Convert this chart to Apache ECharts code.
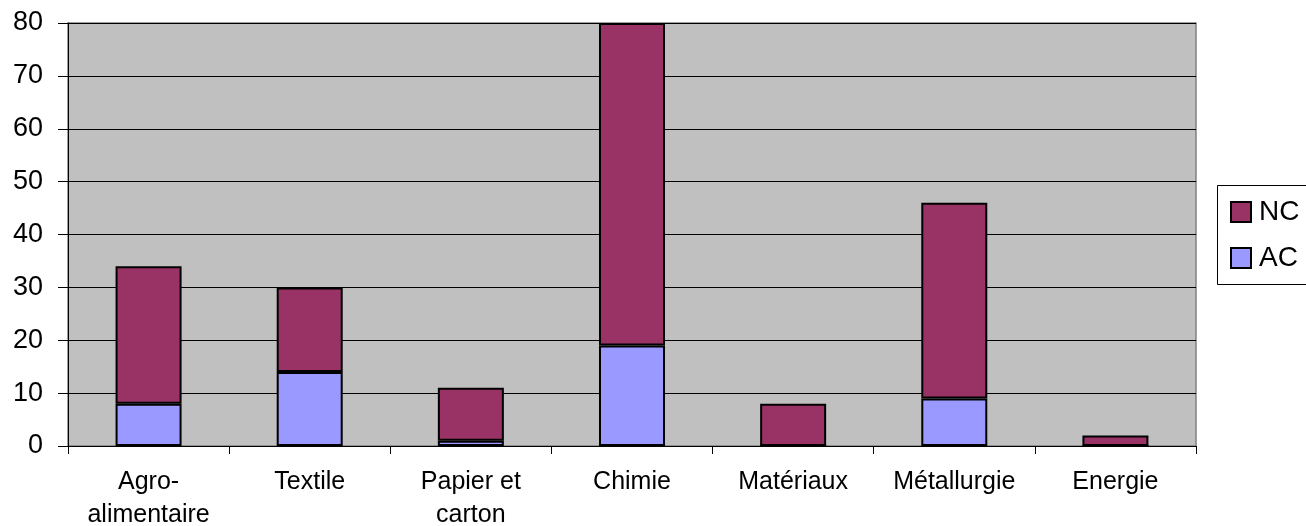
<!DOCTYPE html>
<html>
<head>
<meta charset="utf-8">
<script src="https://cdn.jsdelivr.net/npm/echarts@6/dist/echarts.min.js"></script>
<style>
  html, body { margin: 0; padding: 0; background: #fff; }
  #chart { width: 1306px; height: 526px; }
</style>
</head>
<body>
<div id="chart"></div>
<script>
// Sector categories (x axis)
const categories = ['Agro-\nalimentaire', 'Textile', 'Papier et\ncarton', 'Chimie', 'Matériaux', 'Métallurgie', 'Energie'];
// Stacked counts per sector
const acValues = [8, 14, 1, 19, 0, 9, 0];
const ncValues = [26, 16, 10, 61, 8, 37, 2];

const FONT = '"Liberation Sans", Arial, sans-serif';

const chart = echarts.init(document.getElementById('chart'), null, { renderer: 'canvas' });

chart.setOption({
  animation: false,
  backgroundColor: '#ffffff',
  textStyle: { fontFamily: FONT, color: '#000' },
  grid: {
    left: 68, top: 23, right: 110, bottom: 80,
    outerBoundsMode: 'none',
    containLabel: false,
    show: true,
    backgroundColor: '#C0C0C0',
    borderColor: '#808080',
    borderWidth: 1.5
  },
  // Legend frame runs past the right edge of the canvas
  graphic: [{
    type: 'rect',
    z: 1,
    shape: { x: 1217.5, y: 185.5, width: 150, height: 99 },
    style: { fill: '#fff', stroke: '#000', lineWidth: 1 }
  }],
  legend: {
    z: 5,
    orient: 'vertical',
    left: 1218,
    top: 186,
    data: ['NC', 'AC'],
    icon: 'rect',
    itemWidth: 20,
    itemHeight: 20,
    itemGap: 14,
    padding: [10, 10, 9, 12],
    textStyle: { fontFamily: FONT, fontSize: 28, color: '#000', lineHeight: 32, padding: [0, 0, 0, 3] }
  },
  xAxis: {
    type: 'category',
    data: categories,
    axisLine: { show: true, lineStyle: { color: '#000', width: 1 } },
    axisTick: { show: true, length: 8, alignWithLabel: false, lineStyle: { color: '#000' } },
    axisLabel: {
      interval: 0,
      margin: 20,
      fontFamily: FONT,
      fontSize: 25,
      lineHeight: 33,
      color: '#000'
    },
    splitLine: { show: false }
  },
  yAxis: {
    type: 'value',
    min: 0,
    max: 80,
    interval: 10,
    axisLine: { show: true, lineStyle: { color: '#000', width: 1 } },
    axisTick: { show: true, length: 10, lineStyle: { color: '#000' } },
    axisLabel: { margin: 25, fontFamily: FONT, fontSize: 27, color: '#000' },
    splitLine: { show: true, lineStyle: { color: '#000', width: 1 } }
  },
  series: [
    {
      name: 'AC',
      type: 'bar',
      stack: 'total',
      data: acValues,
      barWidth: 66,
      itemStyle: { color: '#9999FF', borderColor: '#000', borderWidth: 2 }
    },
    {
      name: 'NC',
      type: 'bar',
      stack: 'total',
      data: ncValues,
      barWidth: 66,
      itemStyle: { color: '#993366', borderColor: '#000', borderWidth: 2 }
    }
  ]
});
</script>
</body>
</html>
